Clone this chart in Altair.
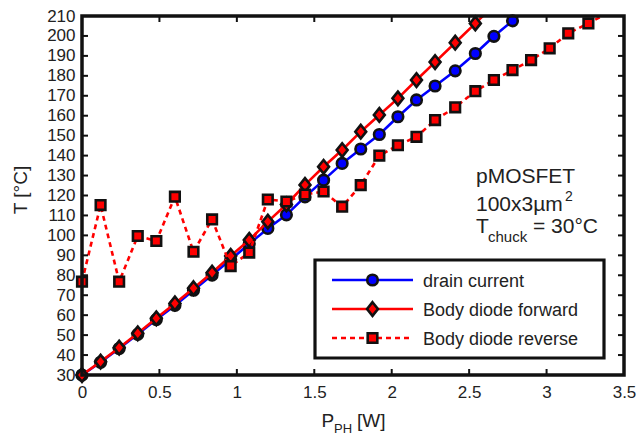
import altair as alt
import pandas as pd

FONT = "Liberation Sans"
BLUE = "#0000ff"
RED = "#ff0000"
EDGE = "#111111"

# ---- data ----
P = [0, 0.12, 0.24, 0.36, 0.48, 0.60, 0.72, 0.84, 0.96, 1.08, 1.20, 1.32, 1.44, 1.56,
     1.68, 1.80, 1.92, 2.04, 2.16, 2.28, 2.41, 2.54, 2.66, 2.78, 2.90, 3.02, 3.14, 3.27]

drain = [30, 36.4, 43.3, 50.4, 57.8, 64.9, 72.5, 80.1, 87.8, 95.8, 103.5, 110.3, 119.3,
         127.7, 136.1, 143.3, 150.6, 159.5, 167.9, 174.9, 182.5, 191.2, 199.8, 207.6]
forward = [30, 36.7, 43.7, 50.9, 58.4, 65.9, 73.5, 81.3, 89.7, 97.7, 106.9, 115.5, 125.3,
           134.4, 142.8, 152.0, 160.4, 168.7, 177.9, 186.9, 196.6, 206.3]
reverse = [76.8, 115.2, 76.8, 99.7, 97.2, 119.4, 91.8, 108.0, 84.6, 91.4, 118.0, 117.0, 120.5,
           122.0, 114.4, 125.2, 140.0, 145.2, 149.4, 157.8, 164.2, 172.3, 177.9, 182.9, 187.9,
           193.8, 201.3, 206.3]

# line continuations that run out through the top of the frame (line only, no marker)
drain_exit = (2.90, 215.5)
forward_exit = (2.66, 215.5)
reverse_exit = (3.39, 211.3)

X_TICKS = [0, 0.5, 1, 1.5, 2, 2.5, 3, 3.5]
Y_TICKS = [30, 40, 50, 60, 70, 80, 90, 100, 110, 120, 130, 140, 150, 160, 170, 180, 190, 200, 210]

LEGEND = ["drain current", "Body diode forward", "Body diode reverse"]

W, H = 542, 359

d_pts = pd.DataFrame({"P": P[:len(drain)], "T": drain})
f_pts = pd.DataFrame({"P": P[:len(forward)], "T": forward})
r_pts = pd.DataFrame({"P": P[:len(reverse)], "T": reverse})
d_line = pd.concat([d_pts, pd.DataFrame({"P": [drain_exit[0]], "T": [drain_exit[1]]})], ignore_index=True)
f_line = pd.concat([f_pts, pd.DataFrame({"P": [forward_exit[0]], "T": [forward_exit[1]]})], ignore_index=True)
r_line = pd.concat([r_pts, pd.DataFrame({"P": [reverse_exit[0]], "T": [reverse_exit[1]]})], ignore_index=True)

xt = pd.DataFrame({"P": X_TICKS})
yt = pd.DataFrame({"T": Y_TICKS})
one = pd.DataFrame({"k": [0]})

xscale = alt.Scale(domain=[0, 3.5], nice=False, zero=False)
yscale = alt.Scale(domain=[30, 210], nice=False, zero=False)
xaxis = alt.Axis(values=X_TICKS, format="~g", title=None, grid=False, domain=False, ticks=False,
                 tickSize=0, labelPadding=9, labelFontSize=17, labelFont=FONT, labelColor="#222222",
                 labelFlush=False, labelOverlap=False)
yaxis = alt.Axis(values=Y_TICKS, format="d", title=None, grid=False, domain=False, ticks=False,
                 tickSize=0, labelPadding=7, labelFontSize=17, labelFont=FONT, labelColor="#222222",
                 labelFlush=False, labelOverlap=False)
X = alt.X("P:Q", scale=xscale, axis=xaxis)
Y = alt.Y("T:Q", scale=yscale, axis=yaxis)

DIAMOND = "M0,-1L0.8,0L0,1L-0.8,0Z"
SIZES = {"circle": 112, DIAMOND: 185, "square": 92}
MSW = 2.6


def series_line(df, color, dash=None):
    kw = dict(color=color, strokeWidth=2.6, clip=True)
    if dash:
        kw["strokeDash"] = dash
    return alt.Chart(df).mark_line(**kw).encode(x=X, y=Y)


def series_pts(df, shape, fill):
    return alt.Chart(df).mark_point(shape=shape, size=SIZES[shape], filled=True, fill=fill, stroke=EDGE,
                                    strokeWidth=MSW, opacity=1, fillOpacity=1).encode(x=X, y=Y)


layers = [
    series_line(d_line, BLUE), series_pts(d_pts, "circle", BLUE),
    series_line(f_line, RED), series_pts(f_pts, DIAMOND, RED),
    series_line(r_line, RED, [5, 4]), series_pts(r_pts, "square", RED),
]

# frame and inward ticks on all sides
frame = alt.Chart(one).mark_rect(fill=None, stroke=EDGE, strokeWidth=3.5).encode(
    x=alt.value(0), x2=alt.value(W), y=alt.value(0), y2=alt.value(H))
tick_style = dict(color=EDGE, strokeWidth=2)
ticks = [
    alt.Chart(xt).mark_rule(**tick_style).encode(x=X, y=alt.value(H), y2=alt.value(H - 6)),
    alt.Chart(xt).mark_rule(**tick_style).encode(x=X, y=alt.value(0), y2=alt.value(6)),
    alt.Chart(yt).mark_rule(**tick_style).encode(y=Y, x=alt.value(0), x2=alt.value(6)),
    alt.Chart(yt).mark_rule(**tick_style).encode(y=Y, x=alt.value(W), x2=alt.value(W - 6)),
]


def label(txt, x, y, size, **kw):
    return alt.Chart(one).mark_text(text=txt, font=FONT, fontSize=size, color="#222222",
                                    align=kw.pop("align", "left"), baseline=kw.pop("baseline", "alphabetic"),
                                    **kw).encode(x=alt.value(x), y=alt.value(y))


texts = [
    # axis titles
    label("T [°C]", -61, 174, 19, angle=270, align="center", baseline="middle"),
    label("P", 239.5, 411, 19),
    label("PH", 252, 417, 13),
    label("[W]", 275, 411, 19),
    # annotation
    label("pMOSFET", 394, 167, 21),
    label("100x3µm", 394, 195, 21),
    label("2", 483, 185, 14),
    label("T", 394, 217, 21),
    label("chuck", 406, 226, 15),
    label("= 30°C", 451, 217, 21),
]

# legend
LX0, LX1, LXM, LTX = 250, 331, 290.5, 341
ROWS = [264, 293, 322]
legend = [alt.Chart(one).mark_rect(fill="white", stroke=EDGE, strokeWidth=3.2).encode(
    x=alt.value(233), x2=alt.value(522), y=alt.value(244), y2=alt.value(342))]
styles = [(BLUE, None, "circle"), (RED, None, DIAMOND), (RED, [5, 4], "square")]
for name, ry, (col, dash, shp) in zip(LEGEND, ROWS, styles):
    kw = dict(color=col, strokeWidth=2.6)
    if dash:
        kw["strokeDash"] = dash
    legend.append(alt.Chart(one).mark_rule(**kw).encode(
        x=alt.value(LX0), x2=alt.value(LX1), y=alt.value(ry)))
    legend.append(alt.Chart(one).mark_point(shape=shp, size=SIZES[shp], filled=True, fill=col, stroke=EDGE,
                                            strokeWidth=MSW, opacity=1).encode(
        x=alt.value(LXM), y=alt.value(ry)))
    legend.append(label(name, LTX, ry + 6.5, 18))

chart = alt.layer(*layers, *ticks, frame, *texts, *legend).properties(
    width=W, height=H,
    autosize=alt.AutoSizeParams(type="none"),
    padding={"left": 82, "top": 16, "right": 637 - 82 - W, "bottom": 439 - 16 - H},
    background="white",
).configure_view(stroke=None)

chart.save("out.html", embed_options={"renderer": "svg", "actions": False})
